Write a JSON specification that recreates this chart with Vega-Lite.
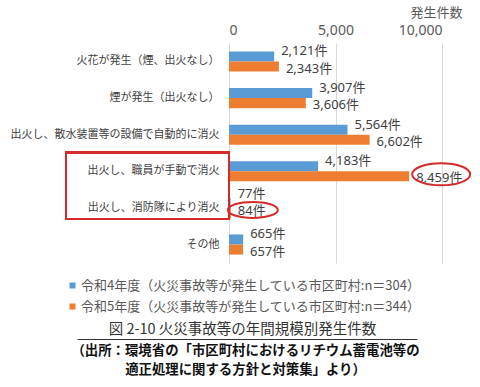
{
  "$schema": "https://vega.github.io/schema/vega-lite/v6.json",
  "padding": {"left": 10, "top": 6, "right": 0, "bottom": 0},
  "config": {
    "font": "Noto Sans, Noto Sans CJK JP",
    "view": {"stroke": null}
  },
  "title": {
    "text": ["（出所：環境省の「市区町村におけるリチウム蓄電池等の", "適正処理に関する方針と対策集」より）"],
    "orient": "bottom",
    "anchor": "middle",
    "frame": "group",
    "dx": -90,
    "font": "Noto Sans CJK JP",
    "fontSize": 13.4,
    "fontWeight": "bold",
    "lineHeight": 19,
    "offset": 5,
    "color": "#111111"
  },
  "datasets": {
    "fires": [
      {"category": "火花が発生（煙、出火なし）", "series": "令和4年度（火災事故等が発生している市区町村:n＝304）", "value": 2121},
      {"category": "火花が発生（煙、出火なし）", "series": "令和5年度（火災事故等が発生している市区町村:n＝344）", "value": 2343},
      {"category": "煙が発生（出火なし）", "series": "令和4年度（火災事故等が発生している市区町村:n＝304）", "value": 3907},
      {"category": "煙が発生（出火なし）", "series": "令和5年度（火災事故等が発生している市区町村:n＝344）", "value": 3606},
      {"category": "出火し、散水装置等の設備で自動的に消火", "series": "令和4年度（火災事故等が発生している市区町村:n＝304）", "value": 5564},
      {"category": "出火し、散水装置等の設備で自動的に消火", "series": "令和5年度（火災事故等が発生している市区町村:n＝344）", "value": 6602},
      {"category": "出火し、職員が手動で消火", "series": "令和4年度（火災事故等が発生している市区町村:n＝304）", "value": 4183},
      {"category": "出火し、職員が手動で消火", "series": "令和5年度（火災事故等が発生している市区町村:n＝344）", "value": 8459},
      {"category": "出火し、消防隊により消火", "series": "令和4年度（火災事故等が発生している市区町村:n＝304）", "value": 77},
      {"category": "出火し、消防隊により消火", "series": "令和5年度（火災事故等が発生している市区町村:n＝344）", "value": 84},
      {"category": "その他", "series": "令和4年度（火災事故等が発生している市区町村:n＝304）", "value": 665},
      {"category": "その他", "series": "令和5年度（火災事故等が発生している市区町村:n＝344）", "value": 657}
    ]
  },
  "data": {"name": "fires"},
  "width": 213,
  "height": 220,
  "layer": [
    {
      "layer": [
        {
          "mark": {"type": "bar"},
          "encoding": {
            "y": {
              "field": "category", "type": "nominal",
              "sort": ["火花が発生（煙、出火なし）", "煙が発生（出火なし）", "出火し、散水装置等の設備で自動的に消火", "出火し、職員が手動で消火", "出火し、消防隊により消火", "その他"],
              "scale": {"domain": ["火花が発生（煙、出火なし）", "煙が発生（出火なし）", "出火し、散水装置等の設備で自動的に消火", "出火し、職員が手動で消火", "出火し、消防隊により消火", "その他"], "paddingInner": 0.45, "paddingOuter": 0.23},
              "axis": {"title": null, "ticks": false, "domain": false, "labelFont": "Noto Sans CJK JP", "labelFontSize": 11, "labelColor": "#404040", "labelPadding": 10, "labelLimit": 300}
            },
            "yOffset": {"field": "series", "type": "nominal", "sort": ["令和4年度（火災事故等が発生している市区町村:n＝304）", "令和5年度（火災事故等が発生している市区町村:n＝344）"]},
            "x": {
              "field": "value", "type": "quantitative",
              "scale": {"domain": [0, 10000], "nice": false},
              "axis": {
                "orient": "top", "values": [0, 5000, 10000], "format": ",d",
                "ticks": false, "domain": false, "grid": true, "gridColor": "#d9d9d9",
                "labelFontSize": 14, "labelColor": "#595959", "labelPadding": 6,
                "title": "発生件数", "titleX": 233, "titleY": -31, "titleAlign": "right", "titleBaseline": "middle",
                "titleFont": "Noto Sans CJK JP", "titleFontSize": 13, "titleFontWeight": "normal", "titleColor": "#595959"
              }
            },
            "color": {
              "field": "series", "type": "nominal",
              "scale": {"domain": ["令和4年度（火災事故等が発生している市区町村:n＝304）", "令和5年度（火災事故等が発生している市区町村:n＝344）"], "range": ["#5B9BD5", "#ED7D31"]},
              "legend": {
                "orient": "none", "legendX": -163, "legendY": 236, "direction": "vertical", "title": null,
                "symbolType": "square", "symbolSize": 36, "labelFont": "Noto Sans CJK JP", "labelFontSize": 13, "labelColor": "#595959",
                "labelLimit": 500, "rowPadding": 7, "labelOffset": 2
              }
            }
          }
        },
        {
          "transform": [{"filter": "datum.series === '令和4年度（火災事故等が発生している市区町村:n＝304）' && datum.category !== '出火し、消防隊により消火'"}],
          "mark": {"type": "text", "align": "left", "baseline": "middle", "dx": 7, "dy": -5, "fontSize": 13, "color": "#404040", "text": {"expr": "format(datum.value, ',') + '件'"}},
          "encoding": {
            "y": {"field": "category", "type": "nominal", "sort": ["火花が発生（煙、出火なし）", "煙が発生（出火なし）", "出火し、散水装置等の設備で自動的に消火", "出火し、職員が手動で消火", "出火し、消防隊により消火", "その他"]},
            "yOffset": {"field": "series", "type": "nominal", "sort": ["令和4年度（火災事故等が発生している市区町村:n＝304）", "令和5年度（火災事故等が発生している市区町村:n＝344）"]},
            "x": {"field": "value", "type": "quantitative"}
          }
        },
        {
          "transform": [{"filter": "datum.series === '令和5年度（火災事故等が発生している市区町村:n＝344）' && datum.category !== '出火し、消防隊により消火'"}],
          "mark": {"type": "text", "align": "left", "baseline": "middle", "dx": 7, "dy": 2, "fontSize": 13, "color": "#404040", "text": {"expr": "format(datum.value, ',') + '件'"}},
          "encoding": {
            "y": {"field": "category", "type": "nominal", "sort": ["火花が発生（煙、出火なし）", "煙が発生（出火なし）", "出火し、散水装置等の設備で自動的に消火", "出火し、職員が手動で消火", "出火し、消防隊により消火", "その他"]},
            "yOffset": {"field": "series", "type": "nominal", "sort": ["令和4年度（火災事故等が発生している市区町村:n＝304）", "令和5年度（火災事故等が発生している市区町村:n＝344）"]},
            "x": {"field": "value", "type": "quantitative"}
          }
        },
        {
          "transform": [{"filter": "datum.series === '令和4年度（火災事故等が発生している市区町村:n＝304）' && datum.category === '出火し、消防隊により消火'"}],
          "mark": {"type": "text", "align": "left", "baseline": "middle", "dx": 7, "dy": -9, "fontSize": 13, "color": "#404040", "text": {"expr": "format(datum.value, ',') + '件'"}},
          "encoding": {
            "y": {"field": "category", "type": "nominal", "sort": ["火花が発生（煙、出火なし）", "煙が発生（出火なし）", "出火し、散水装置等の設備で自動的に消火", "出火し、職員が手動で消火", "出火し、消防隊により消火", "その他"]},
            "yOffset": {"field": "series", "type": "nominal", "sort": ["令和4年度（火災事故等が発生している市区町村:n＝304）", "令和5年度（火災事故等が発生している市区町村:n＝344）"]},
            "x": {"field": "value", "type": "quantitative"}
          }
        },
        {
          "transform": [{"filter": "datum.series === '令和5年度（火災事故等が発生している市区町村:n＝344）' && datum.category === '出火し、消防隊により消火'"}],
          "mark": {"type": "text", "align": "left", "baseline": "middle", "dx": 7, "dy": -2, "fontSize": 13, "color": "#404040", "text": {"expr": "format(datum.value, ',') + '件'"}},
          "encoding": {
            "y": {"field": "category", "type": "nominal", "sort": ["火花が発生（煙、出火なし）", "煙が発生（出火なし）", "出火し、散水装置等の設備で自動的に消火", "出火し、職員が手動で消火", "出火し、消防隊により消火", "その他"]},
            "yOffset": {"field": "series", "type": "nominal", "sort": ["令和4年度（火災事故等が発生している市区町村:n＝304）", "令和5年度（火災事故等が発生している市区町村:n＝344）"]},
            "x": {"field": "value", "type": "quantitative"}
          }
        },
        {
          "transform": [{"filter": "datum.category === '出火し、職員が手動で消火' && datum.series === '令和5年度（火災事故等が発生している市区町村:n＝344）'"}],
          "mark": {"type": "point", "shape": "M-1,0A1,0.38,0,1,1,1,0A1,0.38,0,1,1,-1,0Z", "size": 3364, "filled": false, "stroke": "#D42A2A", "strokeWidth": 2, "opacity": 1, "xOffset": 32, "yOffset": 3},
          "encoding": {
            "y": {"field": "category", "type": "nominal", "sort": ["火花が発生（煙、出火なし）", "煙が発生（出火なし）", "出火し、散水装置等の設備で自動的に消火", "出火し、職員が手動で消火", "出火し、消防隊により消火", "その他"]},
            "x": {"field": "value", "type": "quantitative"}
          }
        },
        {
          "transform": [{"filter": "datum.category === '出火し、消防隊により消火' && datum.series === '令和5年度（火災事故等が発生している市区町村:n＝344）'"}],
          "mark": {"type": "point", "shape": "M-1,0A1,0.32,0,1,1,1,0A1,0.32,0,1,1,-1,0Z", "size": 2500, "filled": false, "stroke": "#D42A2A", "strokeWidth": 2, "opacity": 1, "xOffset": 22, "yOffset": 2},
          "encoding": {
            "y": {"field": "category", "type": "nominal", "sort": ["火花が発生（煙、出火なし）", "煙が発生（出火なし）", "出火し、散水装置等の設備で自動的に消火", "出火し、職員が手動で消火", "出火し、消防隊により消火", "その他"]},
            "x": {"field": "value", "type": "quantitative"}
          }
        },
        {
          "mark": {"type": "rect", "filled": false, "stroke": "#D42A2A", "strokeWidth": 2, "xOffset": -163, "yOffset": -19, "y2Offset": 11},
          "encoding": {
            "x": {"datum": 0},
            "x2": {"datum": 0},
            "y": {"datum": "出火し、職員が手動で消火"},
            "y2": {"datum": "出火し、消防隊により消火"}
          }
        }
      ]
    },
    {
      "mark": {"type": "point", "opacity": 0, "size": 0},
      "encoding": {
        "x": {
          "field": "value", "type": "quantitative",
          "scale": {"domain": [0, 1000000], "nice": false, "range": [0, 340]},
          "axis": {
            "orient": "top", "offset": -296, "position": -152,
            "domain": true, "domainColor": "#333333", "domainWidth": 1,
            "labels": false, "ticks": false, "grid": false,
            "title": "図 2-10 火災事故等の年間規模別発生件数", "titlePadding": 3, "titleX": 165,
            "titleFont": "Noto Sans CJK JP", "titleFontSize": 14.5, "titleFontWeight": "normal", "titleColor": "#333333"
          }
        }
      }
    }
  ],
  "resolve": {"scale": {"x": "independent"}, "axis": {"x": "independent"}}
}
